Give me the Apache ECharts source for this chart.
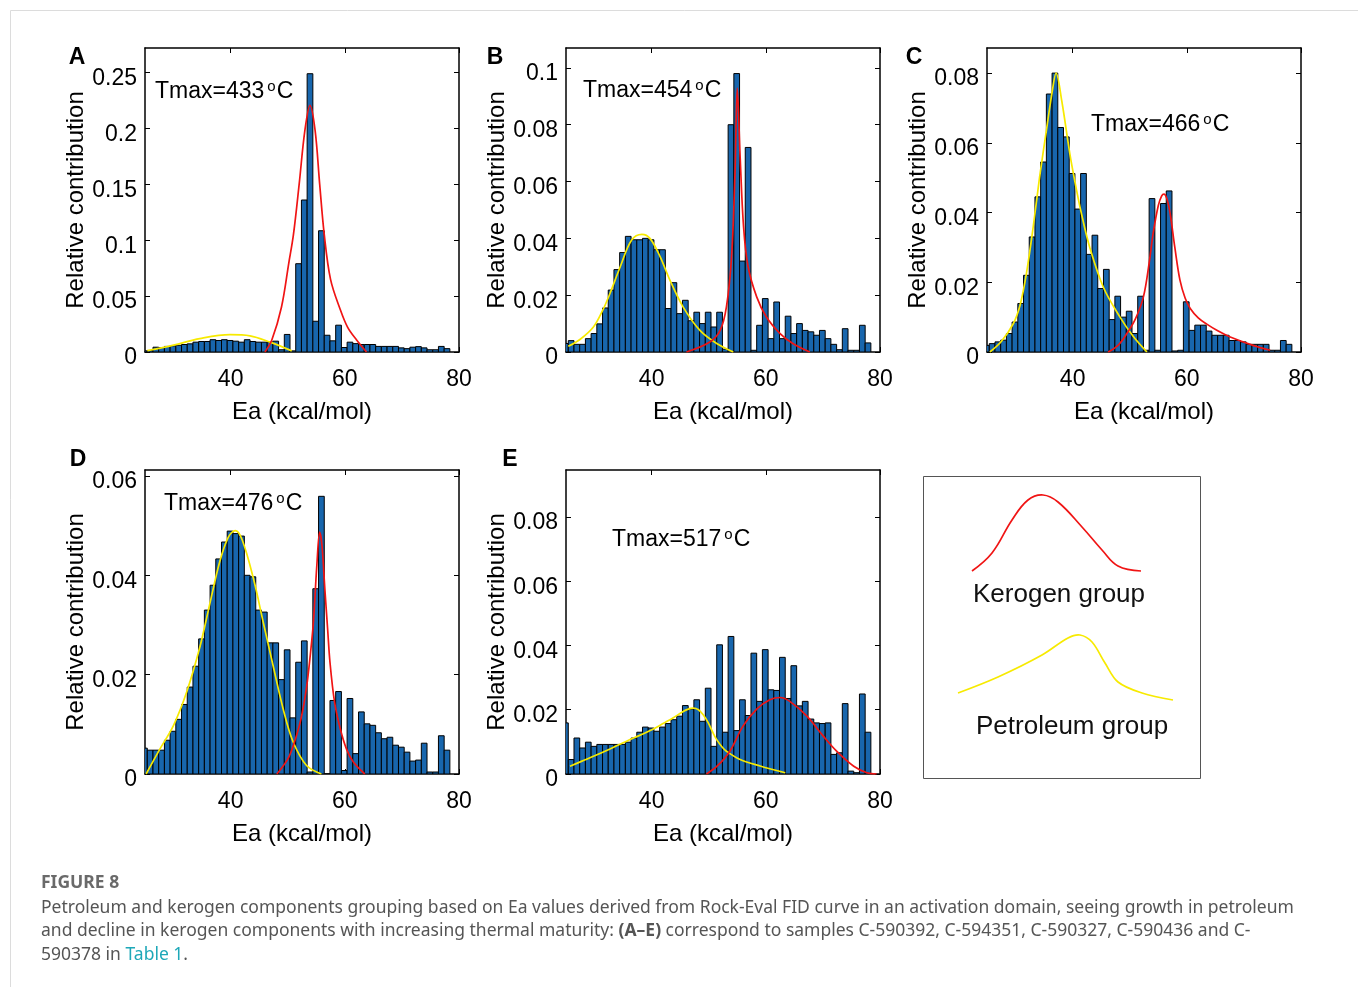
<!DOCTYPE html>
<html>
<head>
<meta charset="utf-8">
<script src="https://cdn.jsdelivr.net/npm/echarts@6/dist/echarts.min.js"></script>
<style>
  html, body { margin: 0; padding: 0; background: #fff; }
  #chart { width: 1358px; height: 987px; }
</style>
</head>
<body>
<div id="chart"></div>
<script>
// Activation-energy (Ea) distributions, relative contribution per 1 kcal/mol bin
const binStart = 24.4;          // lower edge of the first bin (kcal/mol)
const binWidth = 1;
const xMin = 25, xMax = 80;
const xTicks = [40, 60, 80];

const barsA = [0.001, 0.0013, 0.0043, 0.004, 0.005, 0.0055, 0.006, 0.0067, 0.0073, 0.0088,
  0.0094, 0.0094, 0.011, 0.0103, 0.011, 0.0103, 0.0097, 0.0088, 0.011, 0.0094,
  0.0088, 0.0088, 0.0088, 0.0097, 0.002, 0.0157, 0.001, 0.079, 0.136, 0.249,
  0.0275, 0.1085, 0.015, 0.010, 0.024, 0.004, 0.0088, 0.0075, 0.0067, 0.0067,
  0.0067, 0.005, 0.005, 0.005, 0.005, 0.0037, 0.003, 0.0043, 0.0048, 0.0037,
  0.002, 0.002, 0.005, 0.003];
const barsB = [0.003, 0.004, 0.0027, 0.0027, 0.0047, 0.0065, 0.0099, 0.0155, 0.0218, 0.029,
  0.035, 0.0407, 0.0395, 0.0395, 0.040, 0.0395, 0.036, 0.036, 0.0153, 0.0244,
  0.0135, 0.0182, 0.011, 0.014, 0.010, 0.014, 0.0088, 0.014, 0.001, 0.080,
  0.098, 0.032, 0.072, 0.0006, 0.0094, 0.0188, 0.0047, 0.0176, 0.0047, 0.0126,
  0.0065, 0.010, 0.0076, 0.0071, 0.0059, 0.0076, 0.0047, 0.0027, 0.0008, 0.0082,
  0.0006, 0.0006, 0.0094, 0.0032];
const barsC = [0.0019, 0.0024, 0.0029, 0.0034, 0.0053, 0.0086, 0.0139, 0.022, 0.033, 0.0445,
  0.0545, 0.074, 0.080, 0.0644, 0.0617, 0.0512, 0.041, 0.0512, 0.028, 0.0335,
  0.0182, 0.0237, 0.0093, 0.016, 0.010, 0.0117, 0.0053, 0.016, 0.0005, 0.044,
  0.0005, 0.0426, 0.0462, 0.0003, 0.0005, 0.0144, 0.0062, 0.0077, 0.0077, 0.006,
  0.0048, 0.0048, 0.0048, 0.0033, 0.0033, 0.0029, 0.0022, 0.0022, 0.0022, 0.0022,
  0.0005, 0.0005, 0.0033, 0.0022];
const barsD = [0.0052, 0.0048, 0.0048, 0.0048, 0.0068, 0.0086, 0.011, 0.014, 0.0175, 0.0217,
  0.0272, 0.033, 0.038, 0.0433, 0.0467, 0.0489, 0.0484, 0.0479, 0.040, 0.0397,
  0.033, 0.0326, 0.0264, 0.0264, 0.019, 0.025, 0.0113, 0.0225, 0.0268, 0.0004,
  0.0373, 0.0559, 0.0, 0.0148, 0.0166, 0.0007, 0.0152, 0.0041, 0.0125, 0.0101,
  0.0098, 0.0083, 0.0071, 0.0074, 0.0058, 0.0054, 0.0044, 0.0026, 0.0028, 0.0062,
  0.0004, 0.0004, 0.0077, 0.0048];
const barsE = [0.0159, 0.0045, 0.0112, 0.0081, 0.0099, 0.0086, 0.0092, 0.0092, 0.0092, 0.0092,
  0.0092, 0.0099, 0.0112, 0.013, 0.0146, 0.0143, 0.0133, 0.0146, 0.0157, 0.0169,
  0.018, 0.0213, 0.0202, 0.0231, 0.0164, 0.0267, 0.0086, 0.0402, 0.013, 0.0428,
  0.0135, 0.0231, 0.0182, 0.0376, 0.0226, 0.0387, 0.0262, 0.026, 0.0363, 0.0235,
  0.0337, 0.0212, 0.0226, 0.0171, 0.0159, 0.0157, 0.0159, 0.0061, 0.0066, 0.0219,
  0.0009, 0.0004, 0.0249, 0.013];

// Fitted group curves, [Ea, relative contribution]
const petroleumA = [[25.4, 0.0012], [30.0, 0.0062], [34.6, 0.0120], [39.9, 0.0155], [43.4, 0.0145], [46.9, 0.0088], [50.7, 0.0010]];
const kerogenA = [[46.0, 0], [47.2, 0.0105], [48.9, 0.040], [50.2, 0.080], [51.0, 0.105], [52.0, 0.150], [53.0, 0.198],
  [53.9, 0.2207], [54.8, 0.198], [55.6, 0.150], [56.4, 0.105], [57.5, 0.065], [59.2, 0.038], [60.5, 0.022], [62.1, 0.0105], [63.8, 0]];
const petroleumB = [[25.4, 0.002], [27.5, 0.0045], [29.8, 0.0088], [31.5, 0.015], [32.7, 0.0206], [34.5, 0.030], [36.5, 0.0394],
  [38.3, 0.0414], [39.7, 0.040], [41.5, 0.0335], [43.2, 0.0253], [45.5, 0.0159], [48.5, 0.0075], [51.4, 0.0030], [54.3, 0]];
const kerogenB = [[46.1, 0], [50.2, 0.0035], [52.0, 0.0076], [53.1, 0.0159], [54.0, 0.0335], [54.6, 0.0629], [55.0, 0.0929],
  [55.5, 0.0688], [56.1, 0.0441], [56.9, 0.030], [58.4, 0.0194], [60.1, 0.0123], [62.5, 0.0065], [64.8, 0.0029], [67.7, 0]];
const petroleumC = [[25.5, 0], [27.5, 0.003], [29.6, 0.0081], [30.8, 0.0135], [31.9, 0.0225], [33.1, 0.036], [34.2, 0.050],
  [35.4, 0.0635], [36.4, 0.0745], [37.1, 0.080], [38.1, 0.072], [39.5, 0.057], [40.5, 0.048], [41.5, 0.040], [43.0, 0.030],
  [45.4, 0.0185], [48.3, 0.0100], [50.6, 0.0045], [53.0, 0]];
const kerogenC = [[46.2, 0], [48.0, 0.002], [49.5, 0.0053], [51.0, 0.0095], [52.4, 0.0158], [53.4, 0.0255], [54.1, 0.034],
  [55.0, 0.042], [55.6, 0.0448], [56.0, 0.0453], [56.5, 0.044], [57.1, 0.0395], [57.9, 0.030], [58.8, 0.0206], [59.7, 0.0155],
  [60.6, 0.0125], [62.0, 0.0098], [63.5, 0.008], [65.5, 0.006], [67.6, 0.0043], [71.6, 0.0019], [74.6, 0.0005]];
const petroleumD = [[25.2, 0], [27.6, 0.005], [30.0, 0.0098], [32.3, 0.0165], [34.6, 0.0255], [36.4, 0.0345], [38.1, 0.0428],
  [39.6, 0.0477], [40.8, 0.049], [42.0, 0.0472], [44.0, 0.0393], [45.7, 0.0306], [47.5, 0.0215], [49.2, 0.0131],
  [50.9, 0.0066], [53.3, 0.0017], [55.9, 0]];
const kerogenD = [[48.1, 0], [50.0, 0.003], [51.0, 0.0058], [52.3, 0.011], [53.3, 0.0175], [54.0, 0.0245], [54.5, 0.0306],
  [55.1, 0.042], [55.6, 0.0487], [56.0, 0.046], [56.5, 0.0373], [57.0, 0.029], [57.4, 0.0225], [58.2, 0.0145],
  [59.2, 0.0091], [60.3, 0.005], [61.5, 0.0024], [63.5, 0]];
const petroleumE = [[25.7, 0.0024], [27.8, 0.0040], [29.8, 0.0055], [32.7, 0.0078], [35.6, 0.0102], [38.0, 0.0121],
  [40.3, 0.0140], [42.0, 0.0157], [43.8, 0.0175], [45.3, 0.0192], [46.3, 0.0201], [47.3, 0.0205], [48.2, 0.0200],
  [49.0, 0.0185], [49.9, 0.016], [50.7, 0.0130], [51.4, 0.0107], [52.3, 0.0085], [53.1, 0.0071], [55.5, 0.0045],
  [59.0, 0.0025], [63.4, 0.0004]];
const kerogenE = [[49.6, 0], [51.5, 0.0025], [53.7, 0.0071], [56.0, 0.0149], [58.4, 0.0202], [60.7, 0.0231], [62.5, 0.0238],
  [64.2, 0.0226], [67.2, 0.018], [70.1, 0.0117], [72.4, 0.0071], [75.4, 0.0024], [77.7, 0.0004], [79.4, 0]];

const yTicksA = [0, 0.05, 0.1, 0.15, 0.2, 0.25];
const yTicksB = [0, 0.02, 0.04, 0.06, 0.08, 0.1];
const yTicksC = [0, 0.02, 0.04, 0.06, 0.08];
const yTicksD = [0, 0.02, 0.04, 0.06];
const yTicksE = [0, 0.02, 0.04, 0.06, 0.08];

const panelLetters = ['A', 'B', 'C', 'D', 'E'];
const tmaxValues = ['433', '454', '466', '476', '517'];

const FONT = '"Liberation Sans", Arial, Helvetica, sans-serif';
const BAR_FILL = '#1866ad';
const RED = '#f01414';
const YELLOW = '#f7ea00';

const panels = [
  { bars: barsA, petroleum: petroleumA, kerogen: kerogenA, yMax: 0.272, yTicks: yTicksA },
  { bars: barsB, petroleum: petroleumB, kerogen: kerogenB, yMax: 0.107, yTicks: yTicksB },
  { bars: barsC, petroleum: petroleumC, kerogen: kerogenC, yMax: 0.0872, yTicks: yTicksC },
  { bars: barsD, petroleum: petroleumD, kerogen: kerogenD, yMax: 0.0612, yTicks: yTicksD },
  { bars: barsE, petroleum: petroleumE, kerogen: kerogenE, yMax: 0.0946, yTicks: yTicksE }
];

// Page placement of each plot box and its annotations
const frames = [
  { left: 145, top: 48,  letter: [77, 58],  tmax: [155, 92] },
  { left: 566, top: 48,  letter: [495, 58], tmax: [583, 91] },
  { left: 987, top: 48,  letter: [914, 58], tmax: [1091, 125] },
  { left: 145, top: 470, letter: [78, 460], tmax: [164, 504] },
  { left: 566, top: 470, letter: [510, 460], tmax: [612, 540] }
];
const PW = 314, PH = 304;

function renderBar(params, api) {
  const x = api.value(0), v = api.value(1);
  const a = api.coord([x - binWidth / 2, 0]);
  const b = api.coord([x + binWidth / 2, v]);
  return {
    type: 'rect',
    shape: { x: a[0], y: b[1], width: b[0] - a[0], height: a[1] - b[1] },
    style: { fill: BAR_FILL, stroke: '#000', lineWidth: 1 }
  };
}

const grid = [], xAxis = [], yAxis = [], series = [], graphic = [];
const axisLine = { show: true, onZero: false, lineStyle: { color: '#000', width: 1.5 } };

panels.forEach((p, n) => {
  const f = frames[n];
  grid.push({ left: f.left, top: f.top, width: PW, height: PH });

  const xBase = {
    type: 'value', gridIndex: n, min: xMin, max: xMax,
    splitLine: { show: false }, axisLine: axisLine,
    axisTick: { show: true, inside: true, length: 5, customValues: xTicks, lineStyle: { color: '#000', width: 1 } }
  };
  xAxis.push(Object.assign({}, xBase, {
    position: 'bottom',
    axisLabel: { customValues: xTicks, margin: 16, fontSize: 23, color: '#000', fontFamily: FONT },
    name: 'Ea (kcal/mol)', nameLocation: 'middle', nameGap: 48,
    nameTextStyle: { fontSize: 24, color: '#000', fontFamily: FONT }
  }));
  xAxis.push(Object.assign({}, xBase, { position: 'top', axisLabel: { show: false } }));

  const yBase = {
    type: 'value', gridIndex: n, min: 0, max: p.yMax,
    splitLine: { show: false }, axisLine: axisLine,
    axisTick: { show: true, inside: true, length: 5, customValues: p.yTicks, lineStyle: { color: '#000', width: 1 } }
  };
  yAxis.push(Object.assign({}, yBase, {
    position: 'left',
    axisLabel: {
      customValues: p.yTicks, margin: 8, color: '#000',
      formatter: v => '{v|' + v + '}',
      rich: { v: { fontSize: 23, fontFamily: FONT, color: '#000', padding: [12, 0, 0, 0] } }
    },
    name: 'Relative contribution', nameLocation: 'middle', nameGap: 57,
    nameTextStyle: { fontSize: 24, color: '#000', fontFamily: FONT }
  }));
  yAxis.push(Object.assign({}, yBase, { position: 'right', axisLabel: { show: false } }));

  series.push({
    type: 'custom', xAxisIndex: 2 * n, yAxisIndex: 2 * n,
    data: p.bars.map((v, i) => [binStart + (i + 0.5) * binWidth, v]),
    encode: { x: 0, y: 1 }, renderItem: renderBar, clip: true, silent: true, z: 2
  });
  series.push({
    type: 'line', xAxisIndex: 2 * n, yAxisIndex: 2 * n, data: p.petroleum,
    smooth: 0.35, symbol: 'none', clip: true, silent: true, z: 3,
    lineStyle: { color: YELLOW, width: 1.7 }
  });
  series.push({
    type: 'line', xAxisIndex: 2 * n, yAxisIndex: 2 * n, data: p.kerogen,
    smooth: 0.35, symbol: 'none', clip: true, silent: true, z: 4,
    lineStyle: { color: RED, width: 1.7 }
  });

  graphic.push({
    type: 'text', x: f.letter[0], y: f.letter[1],
    style: { text: panelLetters[n], fontFamily: FONT, fontSize: 23, fontWeight: 'bold', fill: '#000', align: 'center', verticalAlign: 'middle' }
  });
  graphic.push({
    type: 'text', x: f.tmax[0], y: f.tmax[1], z: 10,
    style: {
      text: '{m|Tmax=' + tmaxValues[n] + '}{s|o}{m|C}',
      align: 'left', verticalAlign: 'middle',
      rich: {
        m: { fontFamily: FONT, fontSize: 23, fill: '#000', lineHeight: 26 },
        s: { fontFamily: FONT, fontSize: 15, fill: '#000', verticalAlign: 'top', lineHeight: 14, padding: [0, 1, 0, 3] }
      }
    }
  });
});

// Group key
graphic.push({
  type: 'rect', shape: { x: 923.5, y: 476.5, width: 277, height: 302 },
  style: { fill: 'none', stroke: '#555', lineWidth: 1 }
});
graphic.push({
  type: 'polyline',
  shape: { smooth: 0.4, points: [[972, 571], [992, 553], [1012, 520], [1028, 500], [1043, 495], [1058, 502],
    [1082, 527], [1102, 550], [1118, 566], [1141, 571]] },
  style: { stroke: RED, lineWidth: 1.7, fill: 'none' }
});
graphic.push({
  type: 'polyline',
  shape: { smooth: 0.35, points: [[958, 693], [998, 677], [1042, 655], [1068, 638], [1080, 635], [1092, 642],
    [1105, 663], [1118, 682], [1142, 693], [1173, 700]] },
  style: { stroke: YELLOW, lineWidth: 1.7, fill: 'none' }
});
graphic.push({
  type: 'text', x: 973, y: 595,
  style: { text: 'Kerogen group', fontFamily: FONT, fontSize: 26, fill: '#111', align: 'left', verticalAlign: 'middle' }
});
graphic.push({
  type: 'text', x: 976, y: 727,
  style: { text: 'Petroleum group', fontFamily: FONT, fontSize: 26, fill: '#111', align: 'left', verticalAlign: 'middle' }
});

// Page frame and figure caption
graphic.push({
  type: 'rect', shape: { x: 10.5, y: 10.5, width: 1400, height: 1000 },
  style: { fill: 'none', stroke: '#dcdcdc', lineWidth: 1 }, z: -1
});
const CAP = '"Noto Sans", "Open Sans", sans-serif';
graphic.push({
  type: 'text', x: 41, y: 883,
  style: { text: 'FIGURE 8', fontFamily: CAP, fontSize: 17.5, fontWeight: 'bold', fill: '#6a6a6a', align: 'left', verticalAlign: 'middle' }
});
const capRich = {
  t: { fontFamily: CAP, fontSize: 17.5, fill: '#555' },
  b: { fontFamily: CAP, fontSize: 17.5, fill: '#555', fontWeight: 'bold' },
  l: { fontFamily: CAP, fontSize: 17.5, fill: '#1ea8b8' }
};
const captionLines = [
  '{t|Petroleum and kerogen components grouping based on Ea values derived from Rock-Eval FID curve in an activation domain, seeing growth in petroleum}',
  '{t|and decline in kerogen components with increasing thermal maturity: }{b|(A\u2013E)}{t| correspond to samples C-590392, C-594351, C-590327, C-590436 and C-}',
  '{t|590378 in }{l|Table 1}{t|.}'
];
[908, 931, 955].forEach((y, i) => {
  graphic.push({
    type: 'text', x: 41, y: y,
    style: { text: captionLines[i], rich: capRich, align: 'left', verticalAlign: 'middle' }
  });
});

const chart = echarts.init(document.getElementById('chart'));
chart.setOption({
  backgroundColor: '#fff',
  animation: false,
  grid: grid,
  xAxis: xAxis,
  yAxis: yAxis,
  series: series,
  graphic: graphic
});
</script>
</body>
</html>
